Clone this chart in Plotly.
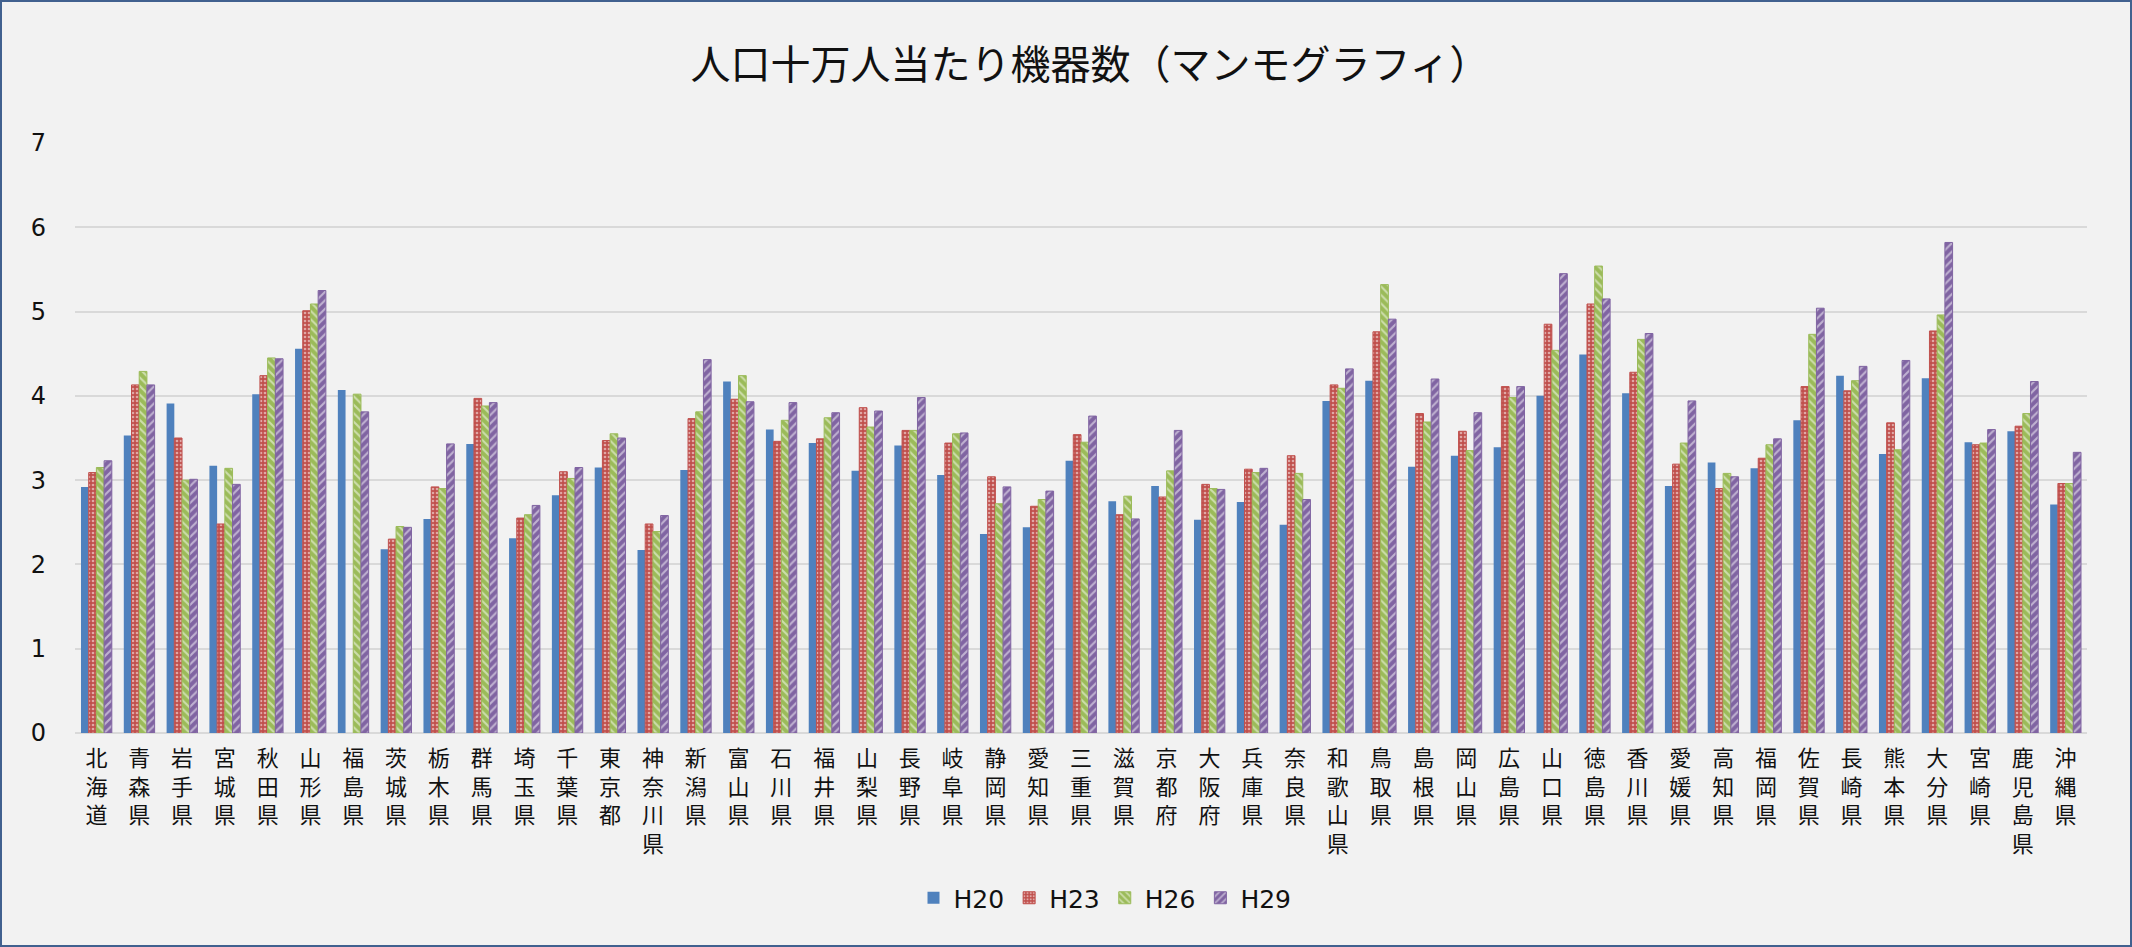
import plotly.graph_objects as go

prefs = ["北海道","青森県","岩手県","宮城県","秋田県","山形県","福島県","茨城県","栃木県","群馬県",
         "埼玉県","千葉県","東京都","神奈川県","新潟県","富山県","石川県","福井県","山梨県","長野県",
         "岐阜県","静岡県","愛知県","三重県","滋賀県","京都府","大阪府","兵庫県","奈良県","和歌山県",
         "鳥取県","島根県","岡山県","広島県","山口県","徳島県","香川県","愛媛県","高知県","福岡県",
         "佐賀県","長崎県","熊本県","大分県","宮崎県","鹿児島県","沖縄県"]

H20 = [2.92,3.53,3.91,3.17,4.02,4.56,4.07,2.18,2.54,3.43,
       2.31,2.82,3.15,2.17,3.12,4.17,3.60,3.44,3.11,3.41,
       3.06,2.36,2.44,3.23,2.75,2.93,2.53,2.74,2.47,3.94,
       4.18,3.16,3.29,3.39,4.00,4.49,4.03,2.93,3.21,3.14,
       3.71,4.24,3.31,4.21,3.45,3.58,2.71]
H23 = [3.09,4.13,3.50,2.48,4.24,5.01,None,2.30,2.92,3.97,
       2.55,3.10,3.47,2.48,3.73,3.96,3.46,3.49,3.86,3.59,
       3.44,3.04,2.69,3.54,2.59,2.80,2.95,3.13,3.29,4.13,
       4.76,3.79,3.58,4.11,4.85,5.09,4.28,3.19,2.90,3.26,
       4.11,4.06,3.68,4.77,3.42,3.64,2.96]
H26 = [3.15,4.29,3.00,3.14,4.45,5.09,4.02,2.45,2.90,3.88,
       2.59,3.02,3.55,2.39,3.81,4.24,3.71,3.74,3.63,3.59,
       3.55,2.72,2.77,3.45,2.81,3.11,2.90,3.09,3.08,4.09,
       5.32,3.69,3.35,3.98,4.54,5.54,4.67,3.44,3.08,3.42,
       4.73,4.18,3.36,4.96,3.44,3.79,2.96]
H29 = [3.23,4.13,3.01,2.95,4.44,5.25,3.81,2.44,3.43,3.92,
       2.70,3.15,3.50,2.58,4.43,3.93,3.92,3.80,3.82,3.98,
       3.56,2.92,2.87,3.76,2.54,3.59,2.89,3.14,2.77,4.32,
       4.91,4.20,3.80,4.11,5.45,5.15,4.74,3.94,3.04,3.49,
       5.04,4.35,4.42,5.82,3.60,4.17,3.33]

series_names = ["H20", "H23", "H26", "H29"]
series_values = [H20, H23, H26, H29]
colors = ["#4f81bd", "#c0504d", "#9bbb59", "#8064a2"]
patterns = [None, ".", "\\", "/"]

tick_text = ["<br>".join(list(p)) for p in prefs]

W, H = 2132, 947
L, R, T, B = 75, 45, 143, 214
pw, ph = W - L - R, H - T - B

fig = go.Figure()
for name, vals, col, pat in zip(series_names, series_values, colors, patterns):
    marker = dict(color=col, line=dict(color=col, width=1 if pat else 0))
    if pat:
        if pat == ".":
            marker["pattern"] = dict(shape=".", fgcolor="white", fillmode="overlay", size=4, solidity=0.35)
        else:
            marker["pattern"] = dict(shape=pat, fgcolor="white", fillmode="overlay", size=6, solidity=0.35)
    fig.add_trace(go.Bar(x=prefs, y=vals, name=name, marker=marker))

font_main = "DejaVu Sans, Noto Sans CJK JP, sans-serif"
fig.update_layout(
    width=W, height=H,
    margin=dict(l=L, r=R, t=T, b=B),
    paper_bgcolor="#f2f2f2", plot_bgcolor="#f2f2f2",
    barmode="group", bargap=0.28, bargroupgap=0,
    title=dict(text="人口十万人当たり機器数（マンモグラフィ）",
               font=dict(family="Noto Sans CJK JP", size=40, color="#111111"),
               x=(1090 - L) / pw, xref="paper", xanchor="center",
               y=1 - 65 / H, yref="container", yanchor="middle"),
    font=dict(family=font_main, color="#111111"),
    legend=dict(orientation="h", x=(1105 - L) / pw, xanchor="center",
                y=1 - 898 / H, yref="container", yanchor="middle",
                font=dict(family=font_main, size=25, color="#111111"),
                bgcolor="rgba(0,0,0,0)"),
    showlegend=True,
)
fig.update_xaxes(
    type="category", tickmode="array", tickvals=prefs, ticktext=tick_text,
    tickfont=dict(family="Noto Sans CJK JP", size=22, color="#111111"),
    showgrid=False, showline=False, ticks="", ticklabelstandoff=10,
)
fig.update_yaxes(
    range=[0, 7], dtick=1, tick0=0,
    tickfont=dict(family=font_main, size=24, color="#111111"),
    showgrid=True, gridcolor="#d9d9d9", gridwidth=2,
    zeroline=True, zerolinecolor="#d9d9d9", zerolinewidth=2,
    showline=False, ticks="", ticklabelstandoff=28,
)

fig.add_shape(type="rect", xref="paper", yref="paper",
              x0=-(L - 1) / pw, x1=1 + (R - 1) / pw,
              y0=-(B - 1) / ph, y1=1 + (T - 1) / ph,
              line=dict(color="#41618f", width=2), fillcolor="rgba(0,0,0,0)", layer="above")

fig.write_html("out.html", config={"displayModeBar": False},
               post_script="document.body.style.margin='0';document.body.style.overflow='hidden';")
